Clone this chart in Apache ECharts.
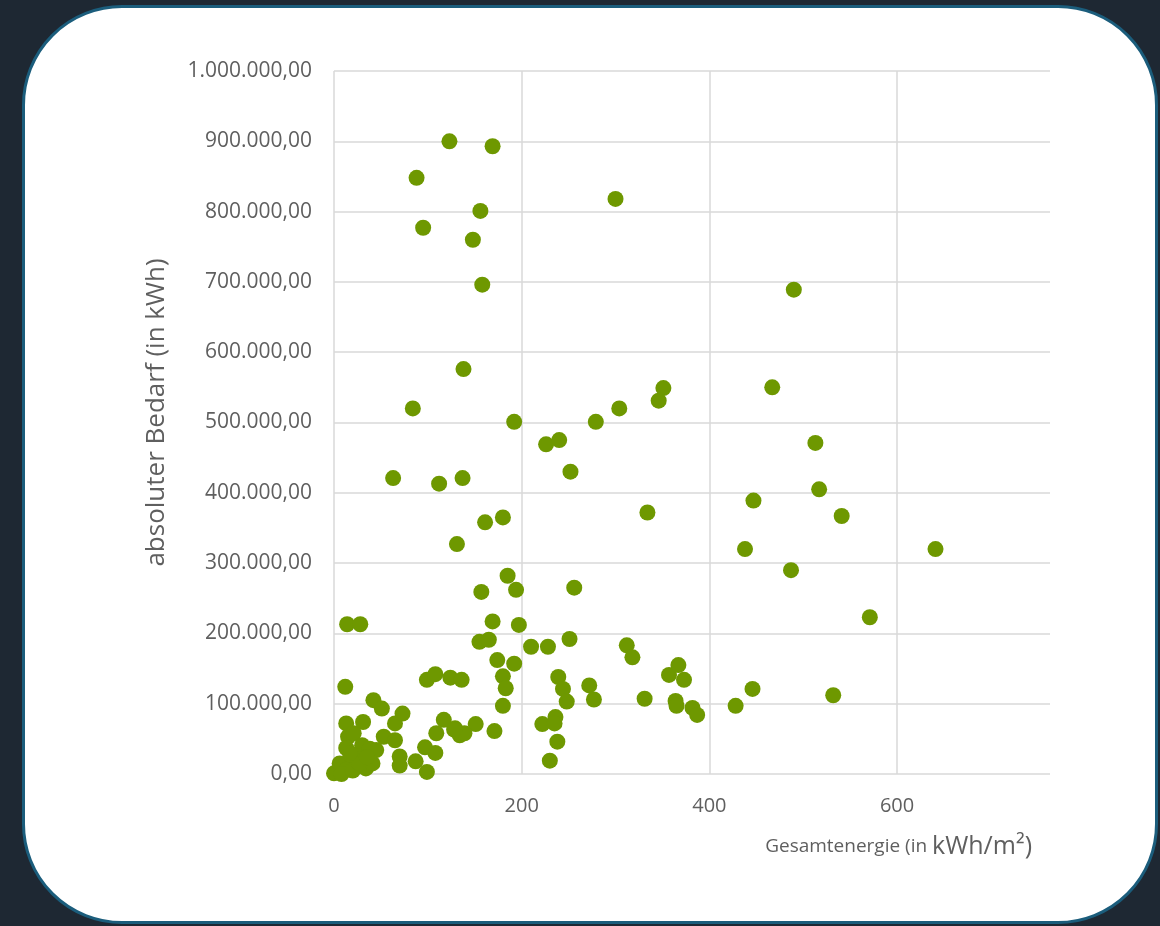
<!DOCTYPE html>
<html>
<head>
<meta charset="utf-8">
<script src="https://cdn.jsdelivr.net/npm/echarts@6/dist/echarts.min.js"></script>
<style>
html,body{margin:0;padding:0;background:#1e2833;width:1160px;height:926px;overflow:hidden;}
#card{position:absolute;left:22px;top:5px;width:1136px;height:919px;background:#fff;border:3px solid #1b5d7c;border-radius:100px;box-sizing:border-box;}
#chart{position:absolute;left:0;top:0;width:1160px;height:926px;}
</style>
</head>
<body>
<div id="card"></div>
<div id="chart"></div>
<script>
const xAxisTitle = 'Gesamtenergie (in ';
const xAxisUnit = 'kWh/m²)';
const yAxisTitle = 'absoluter Bedarf (in kWh)';
const xTicks = [0, 200, 400, 600];
const yTicks = [0, 100000, 200000, 300000, 400000, 500000, 600000, 700000, 800000, 900000, 1000000];

const energyPerArea = [
  123,169,88,156,95,148,158,300,490,138,84,351,346,304,192,279,226,240,252,467,
  513,517,447,541,438,487,641,571,334,180,63,112,137,161,131,185,157,194,256,14,
  28,169,197,155,165,210,228,251,174,192,180,183,180,239,244,248,272,277,312,318,
  331,357,367,373,364,365,382,387,428,446,532,151,171,128,134,139,222,236,235,238,
  230,12,42,51,13,31,65,73,15,21,53,65,45,30,70,70,87,99,97,108,
  109,117,129,99,108,124,136,0,6,13,23,34,41,31,18,13,38,8,20,27,35,17
];
const absoluteDemand = [
  900000,893000,848000,801000,777000,760000,696000,818000,689000,576000,520000,549000,531000,520000,501000,501000,469000,475000,430000,550000,
  471000,405000,389000,367000,320000,290000,320000,223000,372000,365000,421000,413000,421000,358000,327000,282000,259000,262000,265000,213000,
  213000,217000,212000,188000,191000,181000,181000,192000,162000,157000,139000,122000,97000,138000,121000,103000,126000,106000,183000,166000,
  107000,141000,155000,134000,104000,97000,94000,84000,97000,121000,112000,71000,61000,63000,55000,58000,71000,81000,72000,46000,
  19000,124000,105000,93000,72000,74000,72000,86000,53000,58000,53000,48000,34000,41000,25000,12000,18000,3000,38000,30000,
  58000,77000,65000,134000,142000,137000,134000,1000,15000,6000,20000,8000,15000,27000,27000,37000,36000,0,5000,15000,24000,30000
];

const points = energyPerArea.map((x, i) => [x, absoluteDemand[i]]);

function deFmt(v){
  const s = Math.round(v).toString().replace(/\B(?=(\d{3})+(?!\d))/g, '.');
  return s + ',00';
}

const chart = echarts.init(document.getElementById('chart'));
chart.setOption({
  backgroundColor: 'transparent',
  animation: false,
  grid: {left: 334, right: 110, top: 71, bottom: 152},
  xAxis: {
    type: 'value', min: 0, max: 763, interval: 200,
    axisLine: {show: false}, axisTick: {show: false},
    axisLabel: {color: '#5f5f5f', fontSize: 20, fontFamily: 'Open Sans', margin: 22, showMaxLabel: false,
      formatter: v => xTicks.includes(v) ? String(v) : ''},
    splitLine: {show: true, lineStyle: {color: ['#d9d9d9','#d9d9d9','#d9d9d9','#d9d9d9','rgba(0,0,0,0)'], width: 1.5}}
  },
  yAxis: {
    type: 'value', min: 0, max: 1000000, interval: 100000,
    name: yAxisTitle, nameLocation: 'middle', nameGap: 164,
    nameTextStyle: {color: '#5f5f5f', fontSize: 26, fontFamily: 'Open Sans', padding: [0, 0, 0, 20]},
    axisLine: {show: false}, axisTick: {show: false},
    axisLabel: {color: '#5f5f5f', fontSize: 21, fontFamily: 'Open Sans', margin: 22,
      formatter: v => yTicks.includes(v) ? deFmt(v) : ''},
    splitLine: {show: true, lineStyle: {color: '#d9d9d9', width: 1.5}}
  },
  graphic: [{
    type: 'text', right: 128, top: 834,
    style: {
      text: '{a|' + xAxisTitle + '}{b|' + xAxisUnit + '}',
      rich: {
        a: {fontSize: 19, fontFamily: 'Open Sans', fill: '#5f5f5f'},
        b: {fontSize: 25, fontFamily: 'Open Sans', fill: '#5f5f5f'}
      }
    }
  }],
  series: [{
    type: 'scatter',
    data: points,
    symbolSize: 16,
    itemStyle: {color: '#6e9800', opacity: 1}
  }]
});
</script>
</body>
</html>
